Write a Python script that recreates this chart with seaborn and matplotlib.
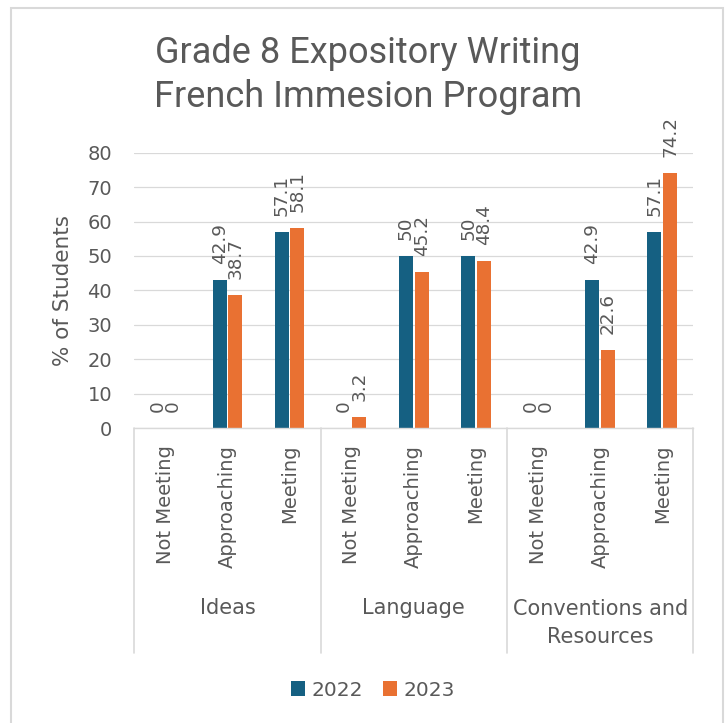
import matplotlib
matplotlib.use("Agg")
import matplotlib.pyplot as plt
import matplotlib.patches as mpatches
import pandas as pd
import seaborn as sns

# data
groups = ["Ideas", "Language", "Conventions and\nResources"]
levels = ["Not Meeting", "Approaching", "Meeting"]
years = ["2022", "2023"]
pct_2022 = [0, 42.9, 57.1, 0, 50, 50, 0, 42.9, 57.1]
pct_2023 = [0, 38.7, 58.1, 3.2, 45.2, 48.4, 0, 22.6, 74.2]

colors = {"2022": "#156082", "2023": "#E97132"}
text_color = "#595959"
line_color = "#d9d9d9"

keys = [f"{g}|{lv}" for g in groups for lv in levels]
df = pd.DataFrame({
    "key": keys * 2,
    "year": ["2022"] * len(keys) + ["2023"] * len(keys),
    "pct": pct_2022 + pct_2023,
})

sns.set_style("white")
plt.rcParams["font.family"] = ["DejaVu Sans"]
plt.rcParams["text.color"] = text_color

fig = plt.figure(figsize=(7.26, 7.23), dpi=100)
ax = fig.add_axes([134.3 / 726, 1 - 428 / 723, 559 / 726, 275.3 / 723])

sns.barplot(data=df, x="key", y="pct", hue="year", order=keys, hue_order=years,
            palette=colors, saturation=1, width=0.5, gap=0.1, linewidth=0, ax=ax)

for cont in ax.containers:
    ax.bar_label(cont, fmt="{:g}", rotation=90, padding=11.5,
                 fontsize=13.2, color=text_color)

ax.set_ylim(0, 80)
ax.set_xlim(-0.5, len(keys) - 0.5)
ax.set_yticks(range(0, 81, 10))
ax.yaxis.grid(True, color=line_color, lw=0.9)
ax.set_axisbelow(True)
for s in ["top", "right", "left"]:
    ax.spines[s].set_visible(False)
ax.spines["bottom"].set_color(line_color)
ax.spines["bottom"].set_linewidth(1)

ax.set_xticks(range(len(keys)))
ax.set_xticklabels([lv for g in groups for lv in levels], rotation=90)
ax.tick_params(axis="x", length=0, pad=12, labelsize=14, labelcolor=text_color)
ax.tick_params(axis="y", length=0, pad=16, labelsize=14, labelcolor=text_color)
ax.set_xlabel("")
ax.set_ylabel("% of Students", fontsize=15.5, color=text_color, va="center")
ax.yaxis.set_label_coords(-0.1276, 0.5)

# group labels and separators under the axis
trans = ax.get_xaxis_transform()
for i in range(len(groups) + 1):
    ax.plot([i * 3 - 0.5, i * 3 - 0.5], [0, -0.817], transform=trans,
            color=line_color, lw=1.2, clip_on=False)
for i, g in enumerate(groups):
    y = -0.654 if "\n" not in g else -0.708
    ax.text(i * 3 + 1, y, g, transform=trans, ha="center", va="center",
            fontsize=15, color=text_color, linespacing=1.55)

fig.text(0.507, 1 - 75 / 723, "Grade 8 Expository Writing\nFrench Immesion Program",
         ha="center", va="center", fontsize=26, color=text_color,
         family=["Liberation Sans Narrow", "Roboto"], linespacing=1.3)

ax.legend(loc="center", bbox_to_anchor=(373 / 726, 1 - 690 / 723),
          bbox_transform=fig.transFigure, ncol=2, frameon=False, fontsize=14.5,
          handlelength=0.7, handleheight=0.7, handletextpad=0.35,
          columnspacing=0.95, labelcolor=text_color)

fig.patches.append(mpatches.Rectangle((11 / 726, -0.02), 712 / 726, 1.02 - 8 / 723,
                                      transform=fig.transFigure, fill=False,
                                      edgecolor=line_color, lw=1.5))

fig.savefig("out.png", dpi=100)
